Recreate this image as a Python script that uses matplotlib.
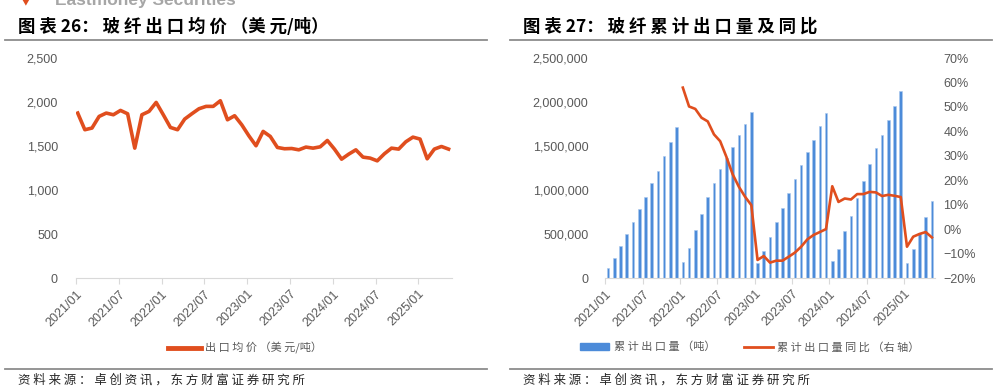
import matplotlib
matplotlib.use('Agg')
import matplotlib.pyplot as plt
from matplotlib.lines import Line2D
from matplotlib.patches import Patch
from matplotlib.ticker import FuncFormatter

plt.rcParams['font.family'] = ['Noto Sans CJK SC', 'DejaVu Sans']

# months 2021/01 .. 2025/05
months = [f'{y}/{m:02d}' for y in range(2021, 2026) for m in range(1, 13)][:53]
tick_labels = ['2021/01', '2021/07', '2022/01', '2022/07', '2023/01',
               '2023/07', '2024/01', '2024/07', '2025/01']

# chart 26: export average price (USD/t)
price = [1875, 1686, 1705, 1837, 1875, 1856, 1905, 1867, 1477, 1856, 1894, 1996,
         1856, 1712, 1686, 1807, 1867, 1924, 1951, 1951, 2015, 1799, 1845, 1742,
         1617, 1504, 1667, 1610, 1485, 1470, 1473, 1458, 1489, 1477, 1492, 1564,
         1466, 1352, 1409, 1458, 1375, 1364, 1333, 1413, 1477, 1466, 1549, 1602,
         1580, 1356, 1466, 1496, 1466]

# chart 27: cumulative export volume (t) and yoy (%)
volume = [121e3, 231e3, 371e3, 504e3, 636e3, 784e3, 917e3, 1076e3, 1220e3, 1386e3, 1549e3, 1716e3,
          189e3, 345e3, 549e3, 727e3, 917e3, 1083e3, 1242e3, 1360e3, 1489e3, 1621e3, 1746e3, 1883e3,
          170e3, 307e3, 473e3, 636e3, 799e3, 966e3, 1129e3, 1284e3, 1432e3, 1572e3, 1727e3, 1879e3,
          193e3, 337e3, 534e3, 712e3, 909e3, 1102e3, 1295e3, 1477e3, 1621e3, 1792e3, 1958e3, 2121e3,
          178e3, 330e3, 519e3, 697e3, 875e3]
yoy = [None] * 12 + [
    57.9, 50.2, 49.2, 45.6, 44.1, 38.8, 36.0, 29.6, 22.5, 17.4, 13.3, 9.9,
    -12.5, -10.9, -13.6, -12.8, -12.8, -11.2, -9.5, -7.1, -4.1, -2.3, -1.1, 0.1,
    17.6, 11.2, 12.6, 12.2, 14.4, 14.4, 15.3, 15.1, 13.6, 14.1, 13.7, 13.2,
    -7.1, -3.0, -1.9, -1.1, -3.3]

ORANGE = '#E04E1E'
BLUE = '#4C8BD9'
GREY_TXT = '#595959'
AXIS_GREY = '#D9D9D9'

W, H = 997, 392
fig = plt.figure(figsize=(W / 100, H / 100), dpi=100)


def px_rect(x0, y0, x1, y1):
    return [x0 / W, 1 - y1 / H, (x1 - x0) / W, (y1 - y0) / H]


# the source uses a wide, letter-spaced CJK font: add a space between CJK glyphs
def is_cjk(c):
    return '\u4e00' <= c <= '\u9fff' or c in '：，（）'


def spaced(s):
    out = ''
    for a, b in zip(s, s[1:] + ' '):
        out += a
        if is_cjk(a) and is_cjk(b) and a != '（' and b != '）':
            out += ' '
        elif a == '：' and b != ' ':
            out += ' '
    return out


def style_xaxis(ax, offset):
    idx = [months.index(t) for t in tick_labels]
    ax.set_xticks([i + offset for i in idx])
    ax.set_xticklabels(tick_labels, rotation=45, ha='right', va='top',
                       rotation_mode='anchor', fontsize=9, color=GREY_TXT,
                       family=['Liberation Sans', 'DejaVu Sans'])
    ax.tick_params(axis='x', length=4, color=AXIS_GREY, pad=3)
    for s in ['top', 'left', 'right']:
        ax.spines[s].set_visible(False)
    ax.spines['bottom'].set_color(AXIS_GREY)


def thousands(v, _):
    return f'{int(v):,}'


# header / footer decorations
fig.text(21 / W, 1 - 4 / H, '▼', color=ORANGE, fontsize=7, va='baseline')
fig.text(55 / W, 1 - 5 / H, 'Eastmoney Securities', color='#A6A6A6', fontsize=12.5,
         fontweight='bold', va='baseline', family=['Liberation Sans', 'DejaVu Sans'])
for x0, x1 in [(5, 487), (510, 992)]:
    fig.add_artist(Line2D([x0 / W, x1 / W], [1 - 40 / H] * 2, color='#8C8C8C', lw=1.3))
    fig.add_artist(Line2D([x0 / W, x1 / W], [1 - 368.5 / H] * 2, color='#8C8C8C', lw=1.3))
fig.text(18 / W, 1 - 27 / H, spaced('图表 26：玻纤出口均价（美元/吨）'), fontsize=12.5,
         fontweight='bold', color='black', va='center')
fig.text(523 / W, 1 - 27 / H, spaced('图表 27：玻纤累计出口量及同比'), fontsize=12.5,
         fontweight='bold', color='black', va='center')
source = spaced('资料来源：卓创资讯，东方财富证券研究所')
fig.text(18 / W, 1 - 380 / H, source, fontsize=9, color='#262626', va='center')
fig.text(523 / W, 1 - 380 / H, source, fontsize=9, color='#262626', va='center')

# ---- chart 26
ax1 = fig.add_axes(px_rect(76, 58, 452, 278.3))
x = list(range(len(months)))
ax1.plot(x, price, color=ORANGE, lw=2.6, solid_joinstyle='round')
ax1.set_xlim(-0.24, 52.48)
ax1.set_ylim(0, 2500)
ax1.set_yticks(range(0, 2501, 500))
ax1.yaxis.set_major_formatter(FuncFormatter(thousands))
ax1.tick_params(axis='y', length=0, pad=13, labelsize=9, labelcolor=GREY_TXT)
for lab in ax1.get_yticklabels():
    lab.set_family(['Liberation Sans', 'DejaVu Sans'])
style_xaxis(ax1, -0.24)
ax1.legend(handles=[Line2D([], [], color=ORANGE, lw=3.5)], labels=[spaced('出口均价（美元/吨）')],
           loc='center', bbox_to_anchor=(245 / W, 1 - 348 / H), bbox_transform=fig.transFigure,
           frameon=False, fontsize=8, labelcolor=GREY_TXT, handlelength=3.0, handletextpad=0.4)

# ---- chart 27
ax2 = fig.add_axes(px_rect(605, 58, 935, 278.3))
ax2.bar(x, volume, width=0.42, color=BLUE, edgecolor='#A9C8EE', linewidth=0.4)
ax2.set_xlim(-0.5, 52.5)
ax2.set_ylim(0, 2500000)
ax2.set_yticks(range(0, 2500001, 500000))
ax2.yaxis.set_major_formatter(FuncFormatter(thousands))
ax2.tick_params(axis='y', length=0, pad=12, labelsize=9, labelcolor=GREY_TXT)
for lab in ax2.get_yticklabels():
    lab.set_family(['Liberation Sans', 'DejaVu Sans'])
style_xaxis(ax2, -0.45)

ax3 = ax2.twinx()
yx = [i for i, v in enumerate(yoy) if v is not None]
yv = [v for v in yoy if v is not None]
ax3.plot(yx, yv, color=ORANGE, lw=1.9, solid_joinstyle='round')
ax3.set_ylim(-20, 70)
ax3.set_yticks(range(-20, 71, 10))
ax3.yaxis.set_major_formatter(FuncFormatter(lambda v, _: f'{v:.0f}%'.replace('-', '−')))
ax3.tick_params(axis='y', length=0, pad=6, labelsize=9, labelcolor=GREY_TXT)
for lab in ax3.get_yticklabels():
    lab.set_family(['Liberation Sans', 'DejaVu Sans'])
for s in ['top', 'left', 'right', 'bottom']:
    ax3.spines[s].set_visible(False)

ax2.legend(handles=[Patch(color=BLUE), Line2D([], [], color=ORANGE, lw=2)],
           labels=[spaced('累计出口量（吨）'), spaced('累计出口量同比（右轴）')],
           loc='center', bbox_to_anchor=(750 / W, 1 - 347 / H), bbox_transform=fig.transFigure,
           frameon=False, fontsize=8, labelcolor=GREY_TXT, ncol=2, handlelength=2.6,
           handleheight=0.5, handletextpad=0.4, columnspacing=2.6)

fig.savefig('out.png', dpi=100)
